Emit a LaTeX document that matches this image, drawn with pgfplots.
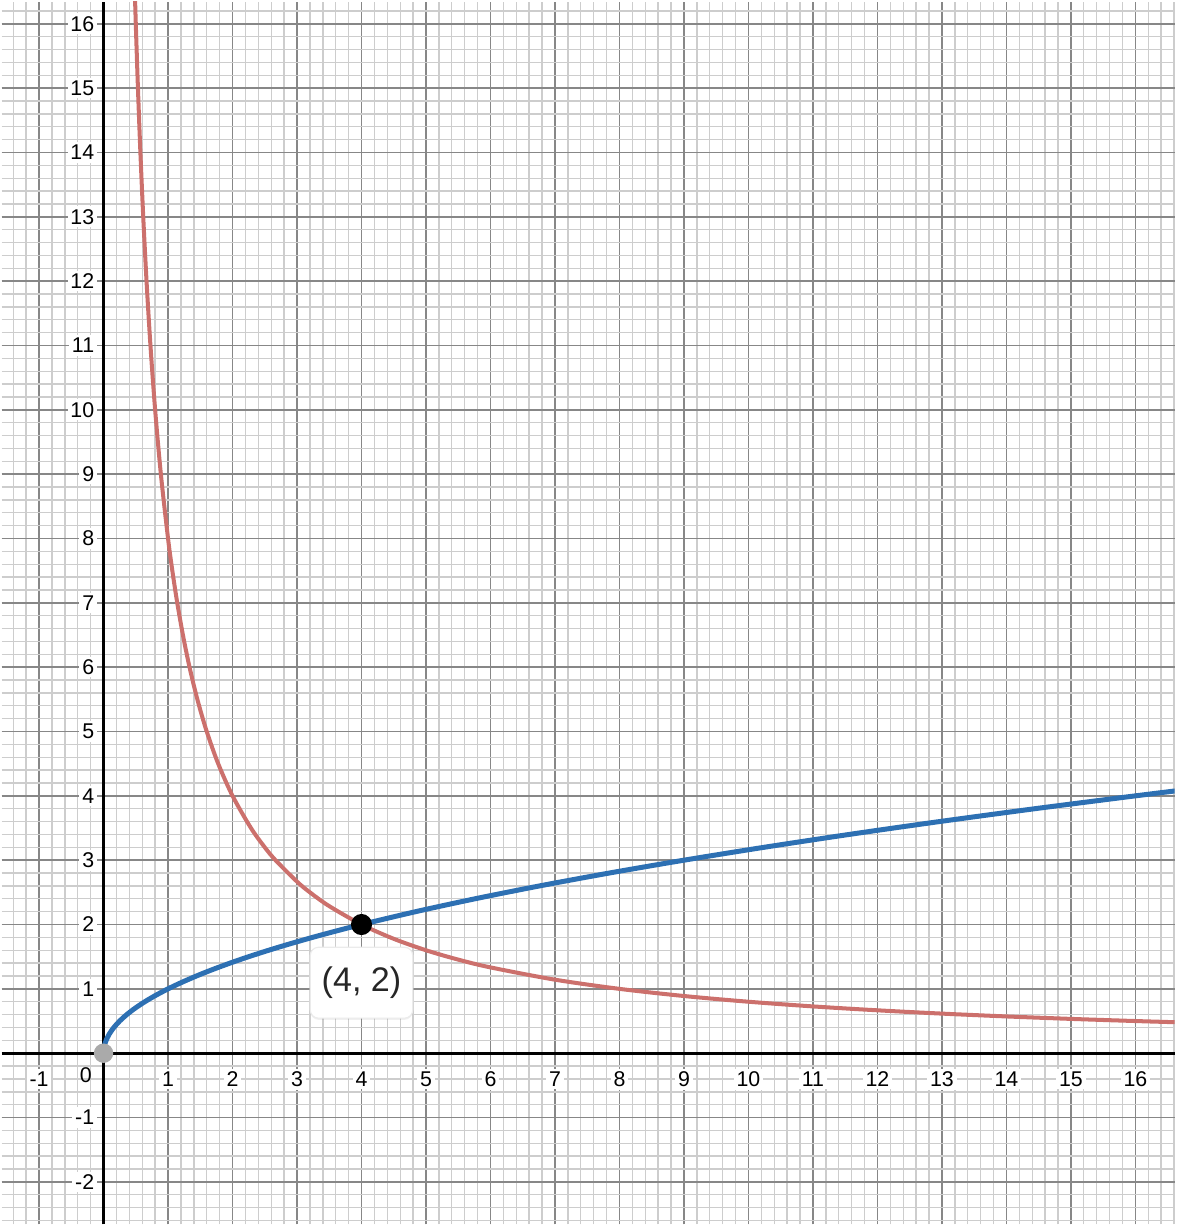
\documentclass[border=0pt]{standalone}
\usepackage{pgfplots}
\pgfplotsset{compat=1.18}
\usepackage{fontspec}
\setmainfont{Liberation Sans}
\usetikzlibrary{shadows}
\definecolor{dblue}{RGB}{45,112,179}
\definecolor{dred}{RGB}{204,112,108}
\definecolor{majgrid}{RGB}{135,135,135}
\definecolor{mingrid}{RGB}{205,205,205}
\begin{document}
\begin{tikzpicture}
\begin{axis}[
  scale only axis,
  width=423.36pt, height=441.36pt,
  xmin=-1.582, xmax=16.608,
  ymin=-2.662, ymax=16.346,
  axis lines=middle,
  axis line style={-, line width=1.1pt, black},
  xtick={-1,1,2,...,16},
  ytick={-2,-1,1,2,...,16},
  minor xtick={-1.4,-1.2,...,16.6},
  minor ytick={-2.6,-2.4,...,16.4},
  major tick length=0pt, minor tick length=0pt,
  grid=both,
  major grid style={line width=0.55pt, majgrid},
  minor grid style={line width=0.5pt, mingrid},
  /pgf/number format/assume math mode=true,
  tick label style={font=\fontsize{7.7pt}{9pt}\selectfont, fill=white, inner sep=1pt},
  xticklabel style={anchor=north, yshift=-5.5pt},
  yticklabel style={anchor=east, xshift=-2.2pt},
  clip=true,
]
\addplot[dred, line width=1.45pt, smooth] coordinates {
(0.47619,16.8) (0.5,16) (0.53333,15) (0.57143,14) (0.61538,13) (0.66667,12)
(0.72727,11) (0.8,10) (0.88889,9) (1,8) (1.06667,7.5) (1.14286,7) (1.23077,6.5)
(1.33333,6) (1.45455,5.5) (1.6,5) (1.77778,4.5) (2,4) (2.28571,3.5) (2.5,3.2)
(2.66667,3) (3,2.66667) (3.2,2.5) (3.5,2.28571) (4,2) (4.5,1.77778) (5,1.6)
(5.5,1.45455) (6,1.33333) (7,1.14286) (8,1) (9,0.88889) (10,0.8) (11,0.72727)
(12,0.66667) (13,0.61538) (14,0.57143) (15,0.53333) (16,0.5) (16.8,0.47619)
};
\addplot[dblue, line width=1.8pt, smooth] coordinates {
(0,0) (0.0025,0.05) (0.01,0.1) (0.0225,0.15) (0.04,0.2) (0.09,0.3) (0.16,0.4)
(0.25,0.5) (0.36,0.6) (0.49,0.7) (0.64,0.8) (0.81,0.9) (1,1) (1.21,1.1)
(1.44,1.2) (1.69,1.3) (1.96,1.4) (2.25,1.5) (2.56,1.6) (2.89,1.7) (3.24,1.8)
(3.61,1.9) (4,2) (4.84,2.2) (5.76,2.4) (6.76,2.6) (7.84,2.8) (9,3) (10.24,3.2)
(11.56,3.4) (12.96,3.6) (14.44,3.8) (16,4) (16.81,4.1)
};
\addplot[only marks, mark=*, mark size=3.3pt, color={rgb,255:red,170;green,170;blue,170}] coordinates {(0,0)};
\addplot[only marks, mark=*, mark size=3.6pt, black] coordinates {(4,2)};
\node[anchor=north east, inner sep=0pt, xshift=-4.1pt, yshift=-5.1pt,
      font=\fontsize{7.7pt}{9pt}\selectfont] at (axis cs:0,0) {0};
\node[fill=white, draw=black!8, rounded corners=3pt, minimum width=37pt,
      minimum height=25.6pt, inner sep=0pt, yshift=-21pt,
      drop shadow={shadow xshift=0pt, shadow yshift=-0.6pt, opacity=0.12},
      font=\fontsize{12.3pt}{14pt}\selectfont, text=black!85] at (axis cs:4,2) {(4, 2)};
\end{axis}
\end{tikzpicture}
\end{document}
